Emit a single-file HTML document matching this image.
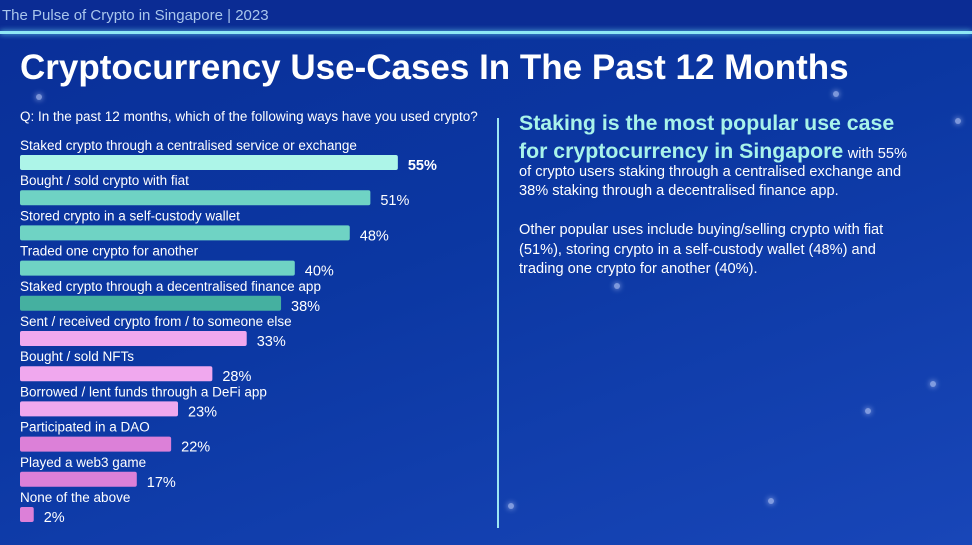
<!DOCTYPE html>
<html><head><meta charset="utf-8"><style>
*{margin:0;padding:0;box-sizing:border-box}
body{width:972px;height:545px;overflow:hidden;font-family:"Liberation Sans","DejaVu Sans",sans-serif;color:#fff;position:relative;
background:linear-gradient(160deg,#0a2f98 0%,#0b37a2 45%,#1846b8 100%)}
.abs{position:absolute;white-space:nowrap}
#hdr{left:0;top:0;width:972px;height:31px;background:#0b2c94}
#hline{left:0;top:31px;width:972px;height:3px;background:#8fe8f5;box-shadow:0 0 6px #6fd8f0}
#sub{left:2px;top:7px;font-size:15px;color:#a9c6ec}
#title{left:20px;top:48px;font-size:35px;font-weight:bold;letter-spacing:0px}
#q{left:20px;top:109px;font-size:13.5px}
#divider{left:497px;top:118px;width:2px;height:410px;background:#9ee6f2}
.h{font-size:21.3px;font-weight:bold;color:#a8f3ea}
.b{font-size:14.6px}
.dot{position:absolute;width:6px;height:6px;border-radius:50%;background:rgba(200,215,255,.6);box-shadow:0 0 6px rgba(200,215,255,.8)}
</style></head><body>
<div id="hdr" class="abs"></div>
<div id="hline" class="abs"></div>
<div id="sub" class="abs">The Pulse of Crypto in Singapore | 2023</div>
<div id="title" class="abs">Cryptocurrency Use-Cases In The Past 12 Months</div>
<div id="q" class="abs">Q: In the past 12 months, which of the following ways have you used crypto?</div>
<div id="divider" class="abs"></div>
<div class="dot" style="left:833px;top:91px"></div><div class="dot" style="left:865px;top:408px"></div>
<div class="dot" style="left:930px;top:381px"></div><div class="dot" style="left:768px;top:498px"></div>
<div class="dot" style="left:508px;top:503px"></div><div class="dot" style="left:36px;top:94px"></div>
<div class="dot" style="left:614px;top:283px"></div><div class="dot" style="left:955px;top:118px"></div>
<div class="abs h" style="left:519px;top:111px">Staking is the most popular use case</div>
<div class="abs" style="left:519px;top:139px"><span class="h">for cryptocurrency in Singapore</span> <span class="b">with 55%</span></div>
<div class="abs b" style="left:519px;top:164px">of crypto users staking through a centralised exchange and</div>
<div class="abs b" style="left:519px;top:183px">38% staking through a decentralised finance app.</div>
<div class="abs b" style="left:519px;top:222px">Other popular uses include buying/selling crypto with fiat</div>
<div class="abs b" style="left:519px;top:242px">(51%), storing crypto in a self-custody wallet (48%) and</div>
<div class="abs b" style="left:519px;top:261px">trading one crypto for another (40%).</div>
<svg id="chart" class="abs" style="left:0;top:0" width="500" height="545"></svg>
<script>
const categories=["Staked crypto through a centralised service or exchange","Bought / sold crypto with fiat","Stored crypto in a self-custody wallet","Traded one crypto for another","Staked crypto through a decentralised finance app","Sent / received crypto from / to someone else","Bought / sold NFTs","Borrowed / lent funds through a DeFi app","Participated in a DAO","Played a web3 game","None of the above"];
const values=[55,51,48,40,38,33,28,23,22,17,2];
const colors=["#adf5e8","#6fd3c4","#6fd3c4","#6fd3c4","#45b0a0","#f0a8ee","#f0a8ee","#f0a8ee","#dc80d8","#dc80d8","#dc80d8"];
const svg=document.getElementById('chart');
const NS="http://www.w3.org/2000/svg";
const x0=20,scale=6.87,top0=155,step=35.2,bh=15;
const xw=v=>v*scale;
const yb=i=>top0+i*step;
values.forEach((v,i)=>{
  const t=document.createElementNS(NS,'text');
  
  
  t.setAttribute('x',x0);t.setAttribute('y',yb(i)-5);
  t.setAttribute('fill','#fff');t.setAttribute('font-size','13.5');
  t.textContent=categories[i];svg.appendChild(t);
  const r=document.createElementNS(NS,'rect');
  
  
  r.setAttribute('x',x0);r.setAttribute('y',yb(i));
  r.setAttribute('width',xw(v));r.setAttribute('height',bh);r.setAttribute('rx',2);
  r.setAttribute('fill',colors[i]);svg.appendChild(r);
  const l=document.createElementNS(NS,'text');
  
  
  l.setAttribute('x',x0+xw(v)+10);l.setAttribute('y',yb(i)+15);
  l.setAttribute('fill','#fff');l.setAttribute('font-size','14.5');
  if(i===0)l.setAttribute('font-weight','bold');
  l.textContent=v+'%';svg.appendChild(l);
});
</script>
</body></html>
